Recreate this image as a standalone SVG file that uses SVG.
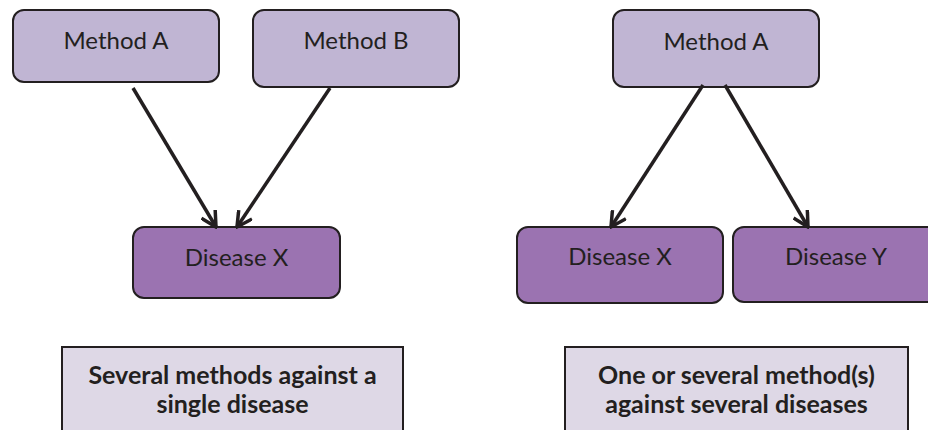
<svg xmlns="http://www.w3.org/2000/svg" width="928" height="430" viewBox="0 0 928 430">
<style>
.m{fill:#C0B5D3;stroke:#231F20;stroke-width:2}
.d{fill:#9B73B1;stroke:#231F20;stroke-width:2}
.s{fill:#DED8E6}
.b{fill:none;stroke:#231F20;stroke-width:2}
.t{font-family:Lato,"Liberation Sans",sans-serif;font-size:24px;fill:#231F20;text-anchor:middle}
.tb{font-family:Lato,"Liberation Sans",sans-serif;font-size:25px;font-weight:bold;fill:#231F20;text-anchor:middle}
.c{stroke:#231F20;stroke-width:3.5;fill:none}
</style>
<defs>
<marker id="ar" markerUnits="userSpaceOnUse" viewBox="0 0 18 18" refX="16" refY="9" markerWidth="18" markerHeight="18" orient="auto">
<path d="M1,1 L16,9 L1,17" fill="none" stroke="#231F20" stroke-width="3.5"/>
</marker>
</defs>
<rect width="928" height="430" fill="#fff"/>
<g id="n-methodA-left"><rect class="m" x="13" y="10" width="206" height="72" rx="11"/><text class="t" x="116" y="49">Method A</text></g>
<g id="n-methodB-left"><rect class="m" x="253" y="10" width="206" height="77" rx="11"/><text class="t" x="356" y="49">Method B</text></g>
<g id="n-diseaseX-left"><rect class="d" x="133" y="227" width="207" height="71" rx="11"/><text class="t" x="236.5" y="266">Disease X</text></g>
<g id="n-methodA-right"><rect class="m" x="613" y="10" width="206" height="77" rx="11"/><text class="t" x="716" y="50">Method A</text></g>
<g id="n-diseaseX-right"><rect class="d" x="517" y="227" width="206" height="76" rx="11"/><text class="t" x="620" y="265">Disease X</text></g>
<g id="n-diseaseY-right"><rect class="d" x="733" y="227" width="206" height="75" rx="11"/><text class="t" x="836" y="265">Disease Y</text></g>
<g id="n-caption-left"><rect class="s" x="62" y="347" width="341" height="90"/><path class="b" d="M62,436 V347 H403 V436"/><text class="tb" x="232.5" y="384">Several methods against a</text><text class="tb" x="232.5" y="413">single disease</text></g>
<g id="n-caption-right"><rect class="s" x="565" y="347" width="343" height="90"/><path class="b" d="M565,436 V347 H908 V436"/><text class="tb" x="736.5" y="384">One or several method(s)</text><text class="tb" x="736.5" y="413">against several diseases</text></g>
<g id="connectors">
<line class="c" x1="133" y1="88" x2="216" y2="227" marker-end="url(#ar)"/>
<line class="c" x1="330" y1="88" x2="237" y2="227" marker-end="url(#ar)"/>
<line class="c" x1="703" y1="85" x2="611" y2="227" marker-end="url(#ar)"/>
<line class="c" x1="725" y1="85" x2="808" y2="227" marker-end="url(#ar)"/>
</g>
</svg>
